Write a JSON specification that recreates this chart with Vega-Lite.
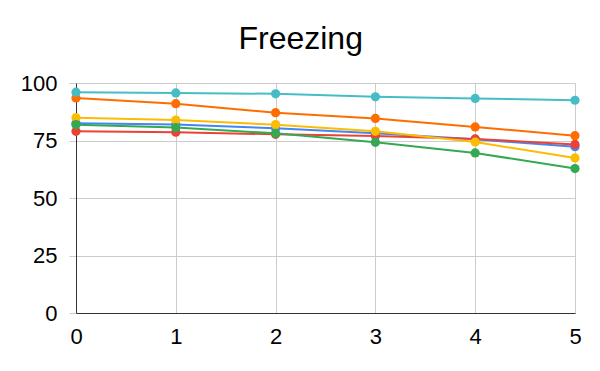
{
  "$schema": "https://vega.github.io/schema/vega-lite/v6.json",
  "width": 499,
  "height": 230,
  "autosize": {"type": "none"},
  "padding": {"left": 76, "top": 83, "right": 25, "bottom": 58},
  "background": "white",
  "title": {
    "text": "Freezing",
    "font": "Liberation Sans",
    "fontSize": 32,
    "fontWeight": "normal",
    "color": "#000000",
    "anchor": "middle",
    "frame": "bounds",
    "baseline": "alphabetic",
    "offset": -9
  },
  "config": {
    "view": {"stroke": null},
    "axis": {
      "labelFont": "Liberation Sans",
      "labelFontSize": 22,
      "labelColor": "#000000",
      "labelFlush": false,
      "labelOverlap": false,
      "gridColor": "#cccccc",
      "gridWidth": 1,
      "domainColor": "#333333",
      "title": null
    }
  },
  "data": {
    "values": [
      {"x": 0, "series": "s1", "v": 82.5},
      {"x": 1, "series": "s1", "v": 82.0},
      {"x": 2, "series": "s1", "v": 80.3},
      {"x": 3, "series": "s1", "v": 78.1},
      {"x": 4, "series": "s1", "v": 75.5},
      {"x": 5, "series": "s1", "v": 72.3},
      {"x": 0, "series": "s2", "v": 79.0},
      {"x": 1, "series": "s2", "v": 78.6},
      {"x": 2, "series": "s2", "v": 77.7},
      {"x": 3, "series": "s2", "v": 77.0},
      {"x": 4, "series": "s2", "v": 75.7},
      {"x": 5, "series": "s2", "v": 73.3},
      {"x": 0, "series": "s3", "v": 84.9},
      {"x": 1, "series": "s3", "v": 83.9},
      {"x": 2, "series": "s3", "v": 81.9},
      {"x": 3, "series": "s3", "v": 79.0},
      {"x": 4, "series": "s3", "v": 74.3},
      {"x": 5, "series": "s3", "v": 67.4},
      {"x": 0, "series": "s4", "v": 81.9},
      {"x": 1, "series": "s4", "v": 80.6},
      {"x": 2, "series": "s4", "v": 78.1},
      {"x": 3, "series": "s4", "v": 74.2},
      {"x": 4, "series": "s4", "v": 69.6},
      {"x": 5, "series": "s4", "v": 62.8},
      {"x": 0, "series": "s5", "v": 93.5},
      {"x": 1, "series": "s5", "v": 91.0},
      {"x": 2, "series": "s5", "v": 87.1},
      {"x": 3, "series": "s5", "v": 84.6},
      {"x": 4, "series": "s5", "v": 80.9},
      {"x": 5, "series": "s5", "v": 77.1},
      {"x": 0, "series": "s6", "v": 96.0},
      {"x": 1, "series": "s6", "v": 95.7},
      {"x": 2, "series": "s6", "v": 95.3},
      {"x": 3, "series": "s6", "v": 94.0},
      {"x": 4, "series": "s6", "v": 93.3},
      {"x": 5, "series": "s6", "v": 92.5}
    ]
  },
  "mark": {
    "type": "line",
    "strokeWidth": 2,
    "point": {"filled": true, "size": 85, "opacity": 1}
  },
  "encoding": {
    "x": {
      "field": "x",
      "type": "quantitative",
      "scale": {"domain": [0, 5], "nice": false, "zero": false},
      "axis": {
        "values": [0, 1, 2, 3, 4, 5],
        "format": "d",
        "grid": true,
        "ticks": false,
        "labelPadding": 13,
        "domainColor": "#333333"
      }
    },
    "y": {
      "field": "v",
      "type": "quantitative",
      "scale": {"domain": [0, 100], "nice": false},
      "axis": {
        "values": [0, 25, 50, 75, 100],
        "grid": true,
        "ticks": true,
        "tickSize": 7,
        "tickColor": "#cccccc",
        "labelPadding": 12,
        "domainColor": "#333333"
      }
    },
    "color": {
      "field": "series",
      "type": "nominal",
      "scale": {
        "domain": ["s1", "s2", "s3", "s4", "s5", "s6"],
        "range": ["#4285F4", "#EA4335", "#FBBC04", "#34A853", "#FF6D01", "#46BDC6"]
      },
      "legend": null
    },
    "order": {"field": "x", "type": "quantitative"}
  }
}
